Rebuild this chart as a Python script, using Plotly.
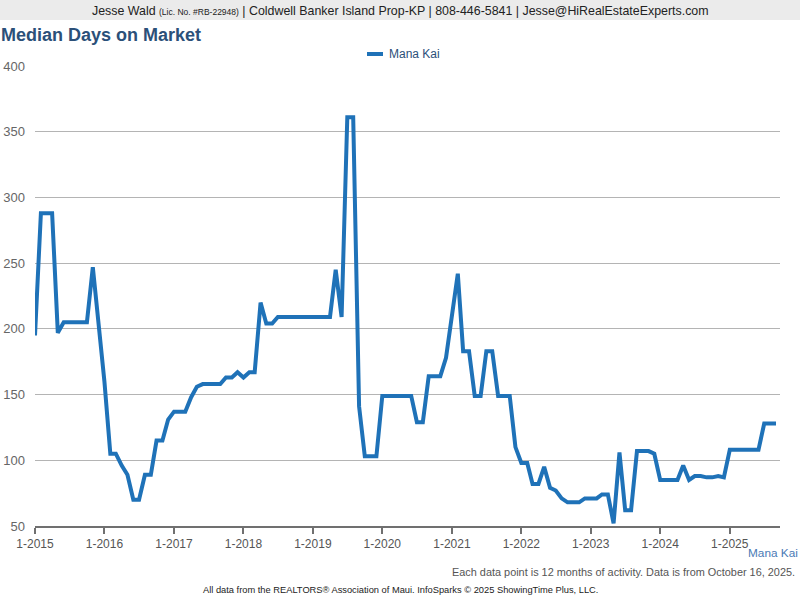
import plotly.graph_objects as go
import pandas as pd

# ---- data ----
start_month = "2015-01-01"
days_on_market = [
    195, 288, 288, 288, 197, 205, 205, 205, 205, 205, 247, 202,   # 2015
    160, 105, 105, 96, 89, 70, 70, 89, 89, 115, 115, 131,         # 2016
    137, 137, 137, 148, 156, 158, 158, 158, 158, 163, 163, 167,   # 2017
    163, 167, 167, 220, 204, 204, 209, 209, 209, 209, 209, 209,   # 2018
    209, 209, 209, 209, 245, 209, 361, 361, 141, 103, 103, 103,   # 2019
    149, 149, 149, 149, 149, 149, 129, 129, 164, 164, 164, 178,   # 2020
    210, 242, 183, 183, 149, 149, 183, 183, 149, 149, 149, 110,   # 2021
    98, 98, 82, 82, 95, 79, 77, 71, 68, 68, 68, 71,               # 2022
    71, 71, 74, 74, 52, 106, 62, 62, 107, 107, 107, 105,          # 2023
    85, 85, 85, 85, 96, 85, 88, 88, 87, 87, 88, 87,               # 2024
    108, 108, 108, 108, 108, 108, 128, 128, 128,                  # 2025
]
series_name = "Mana Kai"
tick_years = list(range(2015, 2026))
tick_labels = [f"1-{y}" for y in tick_years]
y_ticks = [50, 100, 150, 200, 250, 300, 350, 400]

dates = pd.date_range(start_month, periods=len(days_on_market), freq="MS")
tick_vals = [pd.Timestamp(f"{y}-01-01") for y in tick_years]

W, H = 800, 600
L, R, T, B = 35, 20, 66, 74
PW, PH = W - L - R, H - T - B

def px(xp):
    return (xp - L) / PW

def py(yp):
    return (H - B - yp) / PH

FONT = "Liberation Sans, Arial, sans-serif"
LINE_COLOR = "#1f72b8"

fig = go.Figure()
fig.add_trace(go.Scatter(
    x=dates, y=days_on_market, mode="lines", name=series_name,
    line=dict(color=LINE_COLOR, width=4, shape="linear"),
    showlegend=False, cliponaxis=True,
))

fig.update_layout(
    width=W, height=H,
    margin=dict(l=L, r=R, t=T, b=B, autoexpand=False),
    paper_bgcolor="white", plot_bgcolor="white",
    font=dict(family=FONT, color="#555555", size=13),
    title=dict(text="<b>Median Days on Market</b>", x=1 / W, xanchor="left",
               y=1 - 35 / H, yanchor="middle", xref="container", yref="container",
               font=dict(family=FONT, size=18, color="#2b5079")),
    xaxis=dict(
        range=[pd.Timestamp("2015-01-01"), pd.Timestamp("2025-09-22")],
        tickvals=tick_vals, ticktext=tick_labels,
        showgrid=False, zeroline=False, automargin=False,
        showline=True, linecolor="#707070", linewidth=2,
        ticks="outside", ticklen=6, tickwidth=2, tickcolor="#707070",
        tickfont=dict(size=12, color="#555555"),
    ),
    yaxis=dict(
        range=[50, 400], tickvals=y_ticks, automargin=False,
        showgrid=True, gridcolor="#b4b4b4", gridwidth=1,
        zeroline=False, showline=False, ticks="",
        tickfont=dict(size=13, color="#666666"),
        ticklabelstandoff=9,
    ),
    showlegend=False,
)

# banner
fig.add_shape(type="rect", xref="paper", yref="paper",
              x0=px(0), x1=px(W), y0=py(20), y1=py(0),
              fillcolor="#ebebeb", line=dict(width=0), layer="above")

annots = [
    dict(x=px(400), y=py(11),
         text='Jesse Wald <span style="font-size:8.5px">(Lic. No. #RB-22948)</span> | Coldwell Banker Island Prop-KP | 808-446-5841 | Jesse@HiRealEstateExperts.com',
         xanchor="center", yanchor="middle", font=dict(size=12.4, color="#222222")),
    dict(x=px(387), y=py(54), text=series_name, xanchor="left", yanchor="middle",
         font=dict(size=12, color="#2b5079")),
    dict(x=px(800), y=py(553), text=series_name, xanchor="right", yanchor="middle",
         font=dict(size=11.8, color="#4a7ab5")),
    dict(x=px(797), y=py(572),
         text="Each data point is 12 months of activity. Data is from October 16, 2025.",
         xanchor="right", yanchor="middle", font=dict(size=10.9, color="#555555")),
    dict(x=px(400), y=py(590),
         text="All data from the REALTORS® Association of Maui. InfoSparks © 2025 ShowingTime Plus, LLC.",
         xanchor="center", yanchor="middle", font=dict(size=9.3, color="#222222")),
]
for a in annots:
    fig.add_annotation(xref="paper", yref="paper", showarrow=False, **a)

# legend swatch
fig.add_shape(type="line", xref="paper", yref="paper",
              x0=px(367), x1=px(383), y0=py(54), y1=py(54),
              line=dict(color=LINE_COLOR, width=4))

fig.write_html("out.html",
               config={"displayModeBar": False},
               post_script="document.body.style.margin='0';document.body.style.overflow='hidden';")
